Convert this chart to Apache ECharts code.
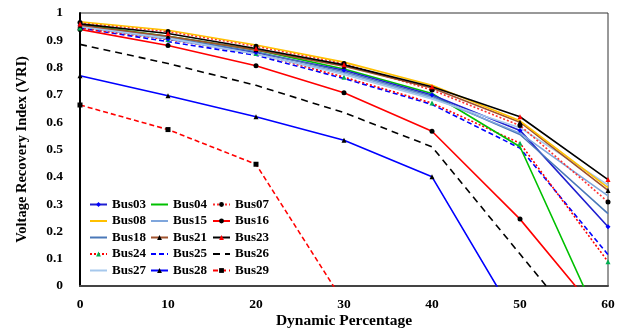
<!DOCTYPE html>
<html>
<head>
<meta charset="utf-8">
<script src="https://cdn.jsdelivr.net/npm/echarts@6/dist/echarts.min.js"></script>
<style>html,body{margin:0;padding:0;background:#fff;}#c{width:629px;height:329px;}</style>
</head>
<body>
<div id="c"></div>
<script>
var xValues = [0, 10, 20, 30, 40, 50, 60];
var yTicks = [0, 0.1, 0.2, 0.3, 0.4, 0.5, 0.6, 0.7, 0.8, 0.9, 1];

var bus03 = [0.955, 0.905, 0.855, 0.79, 0.70, 0.57, 0.217];
var bus04 = [0.958, 0.915, 0.865, 0.795, 0.705, 0.51, -0.198];
var bus07 = [0.965, 0.932, 0.878, 0.815, 0.718, 0.588, 0.308];
var bus08 = [0.968, 0.937, 0.883, 0.82, 0.735, 0.605, 0.36];
var bus15 = [0.95, 0.905, 0.85, 0.78, 0.69, 0.56, 0.33];
var bus16 = [0.94, 0.881, 0.807, 0.708, 0.567, 0.245, -0.144];
var bus18 = [0.952, 0.91, 0.858, 0.785, 0.695, 0.555, 0.265];
var bus21 = [0.955, 0.915, 0.865, 0.805, 0.725, 0.60, 0.35];
var bus23 = [0.96, 0.925, 0.87, 0.81, 0.73, 0.62, 0.39];
var bus24 = [0.945, 0.903, 0.852, 0.765, 0.67, 0.523, 0.089];
var bus25 = [0.945, 0.895, 0.845, 0.76, 0.665, 0.505, 0.115];
var bus26 = [0.885, 0.815, 0.735, 0.635, 0.51, 0.117, -0.275];
var bus27 = [0.952, 0.908, 0.85, 0.775, 0.685, 0.58, 0.37];
var bus28 = [0.77, 0.697, 0.62, 0.534, 0.40, -0.144];
var bus29 = [0.663, 0.573, 0.446, -0.061];

function pts(arr){ return arr.map(function(v,i){ return [xValues[i], v]; }); }

var font = 'Liberation Serif';
var noMarker = {};
function mk(name, data, color, type, symbol, symColor, width){
  if (!symbol) noMarker[name] = true;
  return {
    name: name, type: 'line', data: pts(data), clip: true,
    symbol: symbol || 'none', symbolSize: 5, showSymbol: !!symbol,
    lineStyle: {color: color, width: width || 1.6, type: type || 'solid'},
    itemStyle: {color: symColor || color},
    emphasis: {disabled: true}, animation: false
  };
}

var series = [
  mk('Bus29', bus29, '#ff0000', [5,3], 'rect', '#000'),
  mk('Bus28', bus28, '#0000ff', 'solid', 'triangle', '#000'),
  mk('Bus26', bus26, '#000000', [7,5]),
  mk('Bus16', bus16, '#ff0000', 'solid', 'circle', '#000'),
  mk('Bus25', bus25, '#0000ff', [5,3]),
  mk('Bus24', bus24, '#ff0000', [2,2], 'triangle', '#00b050'),
  mk('Bus04', bus04, '#00c000', 'solid'),
  mk('Bus03', bus03, '#1f1fd0', 'solid', 'diamond', '#0000ff'),
  mk('Bus18', bus18, '#4a78b8', 'solid'),
  mk('Bus15', bus15, '#7fa6dc', 'solid'),
  mk('Bus27', bus27, '#a6c8ec', 'solid'),
  mk('Bus07', bus07, '#ff3030', [2,2], 'circle', '#000'),
  mk('Bus21', bus21, '#a0522d', 'solid', 'triangle', '#000'),
  mk('Bus08', bus08, '#ffc000', 'solid'),
  mk('Bus23', bus23, '#000000', 'solid', 'triangle', '#ff0000')
];

var legendText = {fontFamily: font, fontWeight: 'bold', fontSize: 13, color: '#000', lineHeight: 13};
function lg(left, names){
  return {left: left, top: 193, orient: 'vertical', itemWidth: 17, itemHeight: 6, itemGap: 3.5,
    selectedMode: false, textStyle: legendText,
    data: names.map(function(n){
      return noMarker[n] ? {name: n, itemStyle: {color: 'rgba(0,0,0,0)', borderWidth: 0}} : {name: n};
    })};
}

var chart = echarts.init(document.getElementById('c'), null, {renderer: 'canvas'});
chart.setOption({
  animation: false,
  backgroundColor: '#fff',
  grid: {left: 80, right: 21, top: 13, bottom: 43, show: true, borderColor: '#333', borderWidth: 1,
    containLabel: false, outerBoundsMode: 'none'},
  legend: [
    lg(84, ['Bus03', 'Bus08', 'Bus18', 'Bus24', 'Bus27']),
    lg(145, ['Bus04', 'Bus15', 'Bus21', 'Bus25', 'Bus28']),
    lg(207, ['Bus07', 'Bus16', 'Bus23', 'Bus26', 'Bus29'])
  ],
  xAxis: {
    type: 'value', min: 0, max: 60, interval: 10,
    name: 'Dynamic Percentage', nameLocation: 'middle', nameGap: 27, nameMoveOverlap: false,
    nameTextStyle: {fontFamily: font, fontWeight: 'bold', fontSize: 15.5, color: '#000'},
    axisLine: {show: true, lineStyle: {color: '#444', width: 2}},
    axisTick: {show: false},
    splitLine: {show: false},
    axisLabel: {fontFamily: font, fontWeight: 'bold', fontSize: 13.5, color: '#000', margin: 12}
  },
  yAxis: {
    type: 'value', min: 0, max: 1, interval: 0.1,
    name: 'Voltage Recovery Index (VRI)', nameLocation: 'middle', nameGap: 50, nameMoveOverlap: false,
    nameTextStyle: {fontFamily: font, fontWeight: 'bold', fontSize: 14.5, color: '#000'},
    axisLine: {show: true, lineStyle: {color: '#000', width: 2}},
    axisTick: {show: false},
    splitLine: {show: false},
    axisLabel: {fontFamily: font, fontWeight: 'bold', fontSize: 13.5, color: '#000', margin: 17,
      formatter: function(v){ var t = yTicks.reduce(function(a,b){ return Math.abs(b-v) < Math.abs(a-v) ? b : a; }); return String(t); }}
  },
  series: series
});
</script>
</body>
</html>
